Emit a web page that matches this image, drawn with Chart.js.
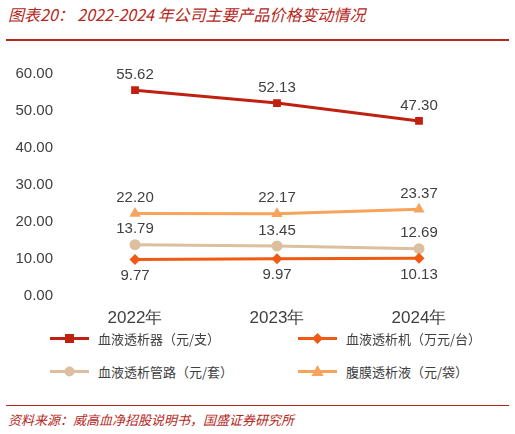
<!DOCTYPE html>
<html>
<head>
<meta charset="utf-8">
<script src="https://cdn.jsdelivr.net/npm/chart.js@4"></script>
<style>
  body { margin: 0; width: 515px; height: 434px; background: #fff; font-family: 'Noto Sans CJK SC', sans-serif; position: relative; overflow: hidden; }
  #title { position: absolute; left: 8px; top: 2px; font-size: 16px; font-style: italic; color: #b5271c; }
  #topLine { position: absolute; left: 6px; right: 6px; top: 39px; border-top: 2px solid #b5271c; }
  #chartBox { position: absolute; left: 0; top: 57px; width: 515px; height: 277px; }
  #legend { position: absolute; left: 50px; top: 329px; width: 460px; font-size: 13px; color: #404040; }
  .item { position: absolute; display: flex; align-items: center; white-space: nowrap; }
  .item svg { margin-right: 8px; }
  #bottomLine { position: absolute; left: 6px; right: 6px; top: 405px; border-top: 1px solid #b5271c; }
  #source { position: absolute; left: 8px; top: 410px; font-size: 13px; font-style: italic; color: #b5271c; }
</style>
</head>
<body>
<div id="title">图表20：&nbsp;2022-2024 年公司主要产品价格变动情况</div>
<div id="topLine"></div>
<div id="chartBox"><canvas id="priceChart"></canvas></div>
<div id="legend"></div>
<div id="bottomLine"></div>
<div id="source">资料来源：威高血净招股说明书，国盛证券研究所</div>
<script>
const years = ['2022年', '2023年', '2024年'];
const yTicks = [0, 10, 20, 30, 40, 50, 60];
const dialyzer = [55.62, 52.13, 47.30];
const machine = [9.77, 9.97, 10.13];
const tubing = [13.79, 13.45, 12.69];
const pdFluid = [22.20, 22.17, 23.37];

const series = [
    { label: '血液透析器（元/支）', data: dialyzer, color: '#c0200f', point: 'rect', radius: 5.5, below: false },
    { label: '血液透析机（万元/台）', data: machine, color: '#f05a14', point: 'rectRot', radius: 5.5, below: true },
    { label: '血液透析管路（元/套）', data: tubing, color: '#dcbf9f', point: 'circle', radius: 5.5, below: false },
    { label: '腹膜透析液（元/袋）', data: pdFluid, color: '#f7a35c', point: 'triangle', radius: 6.5, below: false }
];

// data labels above / below the points
const valueLabels = {
    id: 'valueLabels',
    afterDatasetsDraw(chart) {
        const ctx = chart.ctx;
        ctx.save();
        ctx.font = '15px "Liberation Sans", Arial, sans-serif';
        ctx.fillStyle = '#404040';
        ctx.textAlign = 'center';
        chart.data.datasets.forEach((ds, i) => {
            const meta = chart.getDatasetMeta(i);
            meta.data.forEach((pt, j) => {
                const text = ds.data[j].toFixed(2);
                if (series[i].below) {
                    ctx.textBaseline = 'top';
                    ctx.fillText(text, pt.x, pt.y + 9);
                } else {
                    ctx.textBaseline = 'bottom';
                    ctx.fillText(text, pt.x, pt.y - 8);
                }
            });
        });
        ctx.restore();
    }
};

new Chart(document.getElementById('priceChart'), {
    type: 'line',
    data: {
        labels: years,
        datasets: series.map(s => ({
            label: s.label,
            data: s.data,
            borderColor: s.color,
            backgroundColor: s.color,
            borderWidth: 3,
            pointStyle: s.point,
            pointRadius: s.radius,
            pointBorderWidth: 0,
            tension: 0
        }))
    },
    options: {
        responsive: true,
        maintainAspectRatio: false,
        animation: false,
        layout: { padding: { top: 17, right: 25, bottom: 0, left: 0 } },
        plugins: { legend: { display: false }, tooltip: { enabled: false } },
        scales: {
            x: {
                offset: true,
                grid: { display: false },
                border: { display: false },
                ticks: { color: '#404040', font: { size: 17, family: '"Liberation Sans", Arial' }, padding: 5 }
            },
            y: {
                min: yTicks[0],
                max: yTicks[yTicks.length - 1],
                afterBuildTicks: axis => { axis.ticks = yTicks.map(v => ({ value: v })); },
                afterFit: axis => { axis.width = 64; },
                grid: { display: false },
                border: { display: false },
                ticks: {
                    color: '#404040',
                    font: { size: 15, family: '"Liberation Sans", Arial' },
                    callback: v => v.toFixed(2)
                }
            }
        }
    },
    plugins: [valueLabels]
});

// legend: line + marker samples
function markerSvg(s) {
    let m = '';
    if (s.point === 'rect') m = `<rect x="15" y="4" width="9" height="9" fill="${s.color}"/>`;
    if (s.point === 'rectRot') m = `<polygon points="19.5,3 25,8.5 19.5,14 14,8.5" fill="${s.color}"/>`;
    if (s.point === 'circle') m = `<circle cx="19.5" cy="8.5" r="5" fill="${s.color}"/>`;
    if (s.point === 'triangle') m = `<polygon points="19.5,2 25.5,13 13.5,13" fill="${s.color}"/>`;
    return `<svg width="40" height="17"><line x1="0" y1="8.5" x2="39" y2="8.5" stroke="${s.color}" stroke-width="3"/>${m}</svg>`;
}
const legendPos = [[0, 0], [248, 0], [0, 33], [248, 33]];
document.getElementById('legend').innerHTML = series.map((s, i) =>
    `<div class="item" style="left:${legendPos[i][0]}px;top:${legendPos[i][1]}px">${markerSvg(s)}${s.label}</div>`
).join('');
</script>
</body>
</html>
